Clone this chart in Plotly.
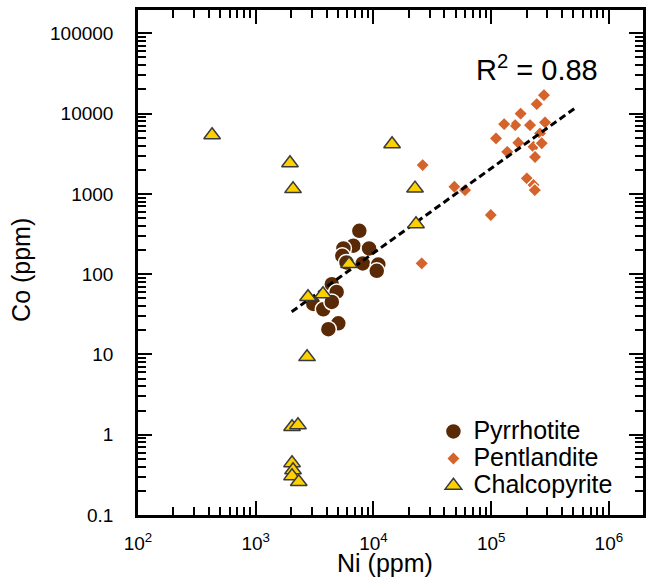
import numpy as np
import plotly.graph_objects as go

# ---- data ----
pyrrhotite_ni = [7590, 6750, 9180, 5560, 5440, 8110, 11000, 10670, 5900, 4430, 4870, 3085, 3750, 4430, 5030, 4140]
pyrrhotite_co = [347, 226, 209, 209, 169, 136, 132, 110, 140, 75, 60, 42.5, 36.5, 45, 24.4, 20.6]

pentlandite_ni = [281000, 244000, 178000, 287000, 160000, 129000, 214000, 260000, 110000, 170000, 137000,
                  229000, 269000, 236000, 201000, 229000, 235000, 26200, 48700, 60000, 99300, 25700]
pentlandite_co = [17000, 13100, 10000, 7770, 7190, 7400, 7190, 5660, 4910, 4330, 3340,
                  3860, 4270, 2880, 1560, 1290, 1115, 2285, 1225, 1115, 545, 136]

chalcopyrite_ni = [426, 1955, 2075, 14400, 22560, 23000, 6210, 2780, 3730, 2730, 2035, 2285, 2035, 2075, 2035, 2320]
chalcopyrite_co = [5400, 2420, 1150, 4170, 1170, 421, 134, 52, 56.5, 9.3, 1.25, 1.32, 0.444, 0.363, 0.306, 0.258]

# power-law trend: log10(Co) = slope * log10(Ni) + intercept
trend_slope = 1.054
trend_intercept = -1.953
trend_ni_range = [2020, 517000]
r2_text = "R<sup>2</sup> = 0.88"

series_names = ["Pyrrhotite", "Pentlandite", "Chalcopyrite"]

x_tickvals = [1e2, 1e3, 1e4, 1e5, 1e6]
x_ticktext = ["10<sup>2</sup>", "10<sup>3</sup>", "10<sup>4</sup>", "10<sup>5</sup>", "10<sup>6</sup>"]
y_tickvals = [0.1, 1, 10, 100, 1000, 10000, 100000]
y_ticktext = ["0.1", "1", "10", "100", "1000", "10000", "100000"]

FONT = "Arial, 'Liberation Sans', sans-serif"


def legend_name(s):
    return '<span style="font-size:25px">' + s + '</span>'


trend_x = np.array(trend_ni_range, dtype=float)
trend_y = 10 ** (trend_slope * np.log10(trend_x) + trend_intercept)

fig = go.Figure()
fig.add_trace(go.Scatter(
    x=pyrrhotite_ni, y=pyrrhotite_co, mode="markers", name=legend_name(series_names[0]),
    marker=dict(symbol="circle", size=16, color="#5a2a06", line=dict(color="white", width=1.5)),
))
fig.add_trace(go.Scatter(
    x=pentlandite_ni, y=pentlandite_co, mode="markers", name=legend_name(series_names[1]),
    marker=dict(symbol="diamond", size=10.5, color="#d5642c", line=dict(color="white", width=1.2)),
))
fig.add_trace(go.Scatter(
    x=trend_x, y=trend_y, mode="lines", showlegend=False, hoverinfo="skip",
    line=dict(color="black", width=3, dash="7px,4px"),
))
fig.add_trace(go.Scatter(
    x=chalcopyrite_ni, y=chalcopyrite_co, mode="markers", name=legend_name(series_names[2]),
    marker=dict(symbol="triangle-up", size=14.5, color="#fdd000", line=dict(color="#3a3a3a", width=1.5)),
))

axis_common = dict(
    type="log", showgrid=False, zeroline=False, showline=True, linewidth=2.5, linecolor="black",
    mirror="ticks", ticks="inside", ticklen=14, tickwidth=2, tickcolor="black",
    tickmode="array", automargin=False,
    tickfont=dict(family=FONT, size=19, color="black"),
    minor=dict(ticks="inside", ticklen=8, tickwidth=1.5, tickcolor="black", dtick="D1",
               tickmode="linear", showgrid=False),
)

fig.update_layout(
    width=646, height=585,
    margin=dict(l=138, r=3, t=10, b=70, autoexpand=False),
    plot_bgcolor="white", paper_bgcolor="white",
    font=dict(family=FONT, color="black"),
    xaxis=dict(axis_common, range=[2, 6.29], tickvals=x_tickvals, ticktext=x_ticktext, ticklabelstandoff=9),
    yaxis=dict(axis_common, range=[-1, 5.29], tickvals=y_tickvals, ticktext=y_ticktext, ticklabelstandoff=18),
    showlegend=True,
    legend=dict(
        x=0.585, y=0.02, xanchor="left", yanchor="bottom",
        font=dict(family=FONT, size=18.5, color="black"),
        bgcolor="rgba(0,0,0,0)", borderwidth=0, tracegroupgap=0,
    ),
    annotations=[
        dict(text=r2_text, xref="paper", yref="paper", x=0.665, y=0.885, xanchor="left", yanchor="middle",
             showarrow=False, font=dict(family=FONT, size=29, color="black")),
        dict(text="Ni (ppm)", xref="paper", yref="paper", x=0.489, y=-0.096, xanchor="center", yanchor="middle",
             showarrow=False, font=dict(family=FONT, size=25, color="black")),
        dict(text="Co (ppm)", xref="paper", yref="paper", x=-0.232, y=0.485, xanchor="center", yanchor="middle",
             textangle=-90, showarrow=False, font=dict(family=FONT, size=25, color="black")),
    ],
)

# remove the default page margin so the figure fills the 646x585 window exactly
fig.write_html(
    "out.html",
    config={"displayModeBar": False},
    post_script="document.body.style.margin='0';document.body.style.overflow='hidden';",
)
